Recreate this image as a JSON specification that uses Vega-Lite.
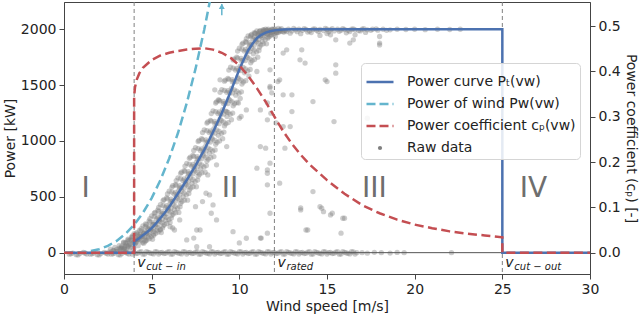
{
  "$schema": "https://vega.github.io/schema/vega-lite/v6.json",
  "width": 526,
  "height": 272,
  "autosize": {"type": "none"},
  "padding": {"left": 64, "top": 2, "right": 50, "bottom": 41},
  "config": {
    "font": "DejaVu Sans",
    "view": {"stroke": "#444", "strokeWidth": 1},
    "axis": {"labelFontSize": 14, "titleFontSize": 14, "titleFontWeight": "normal", "labelColor": "#222", "titleColor": "#222", "domainColor": "#444", "tickColor": "#444", "grid": false, "tickSize": 5, "labelPadding": 3, "titlePadding": 3, "labelFlush": false, "labelOverlap": false}
  },
  "datasets": {
    "raw": [
      {"v":0.3,"p":-14},{"v":0.5,"p":-4},{"v":0.7,"p":-18},{"v":0.9,"p":-8},{"v":1.1,"p":2},{"v":1.3,"p":-12},{"v":1.5,"p":-14},{"v":1.7,"p":-4},{"v":1.9,"p":-18},{"v":2.1,"p":-8},{"v":2.3,"p":2},{"v":2.5,"p":-12},{"v":2.7,"p":-14},{"v":2.9,"p":-4},{"v":3.1,"p":-18},{"v":3.3,"p":-8},{"v":3.5,"p":2},{"v":3.7,"p":-12},{"v":3.9,"p":-14},
      {"v":0.4,"p":-10},{"v":0.8,"p":-20},{"v":1.2,"p":-6},{"v":1.6,"p":-10},{"v":2.0,"p":-20},{"v":2.4,"p":-6},{"v":2.8,"p":-10},{"v":3.2,"p":-20},{"v":3.6,"p":-6},
      {"v":4.1,"p":-8},{"v":4.3,"p":5},{"v":4.5,"p":-14},{"v":4.7,"p":10},{"v":4.9,"p":-3},{"v":5.1,"p":-11},{"v":5.3,"p":7},{"v":5.5,"p":0},
      {"v":5.7,"p":-8},{"v":5.9,"p":5},{"v":6.1,"p":-14},{"v":6.3,"p":10},{"v":6.5,"p":-3},{"v":6.7,"p":-11},{"v":6.9,"p":7},{"v":7.1,"p":0},
      {"v":7.3,"p":-8},{"v":7.5,"p":5},{"v":7.7,"p":-14},{"v":7.9,"p":10},{"v":8.1,"p":-3},{"v":8.3,"p":-11},{"v":8.5,"p":7},{"v":8.7,"p":0},
      {"v":8.9,"p":-8},{"v":9.1,"p":5},{"v":9.3,"p":-14},{"v":9.5,"p":10},{"v":9.7,"p":-3},{"v":9.9,"p":-11},{"v":10.1,"p":7},{"v":10.3,"p":0},
      {"v":10.5,"p":-8},{"v":10.7,"p":5},{"v":10.9,"p":-14},{"v":11.1,"p":10},{"v":11.3,"p":-3},{"v":11.5,"p":-11},{"v":11.7,"p":7},{"v":11.9,"p":0},
      {"v":12.1,"p":-8},{"v":12.3,"p":5},{"v":12.5,"p":-14},{"v":12.7,"p":10},{"v":12.9,"p":-3},{"v":13.1,"p":-11},{"v":13.3,"p":7},{"v":13.5,"p":0},
      {"v":13.7,"p":-8},{"v":13.9,"p":5},{"v":14.1,"p":-14},{"v":14.3,"p":10},{"v":14.5,"p":-3},{"v":14.7,"p":-11},{"v":14.9,"p":7},{"v":15.1,"p":0},
      {"v":15.3,"p":-8},{"v":15.5,"p":5},{"v":15.7,"p":-14},{"v":15.9,"p":10},{"v":16.1,"p":-3},{"v":16.3,"p":-11},{"v":16.5,"p":7},{"v":16.7,"p":0},
      {"v":4.0,"p":3},{"v":4.2,"p":-6},{"v":4.4,"p":8},{"v":4.6,"p":-12},{"v":4.8,"p":3},{"v":5.0,"p":-6},{"v":5.2,"p":8},{"v":5.4,"p":-12},{"v":5.6,"p":3},{"v":5.8,"p":-6},{"v":6.0,"p":8},{"v":6.2,"p":-12},{"v":6.4,"p":3},{"v":6.6,"p":-6},{"v":6.8,"p":8},{"v":7.0,"p":-12},
      {"v":7.2,"p":3},{"v":7.4,"p":-6},{"v":7.6,"p":8},{"v":7.8,"p":-12},{"v":8.0,"p":3},{"v":8.2,"p":-6},{"v":8.4,"p":8},{"v":8.6,"p":-12},{"v":8.8,"p":3},{"v":9.0,"p":-6},{"v":9.2,"p":8},{"v":9.4,"p":-12},{"v":9.6,"p":3},{"v":9.8,"p":-6},{"v":10.0,"p":8},{"v":10.2,"p":-12},
      {"v":10.4,"p":3},{"v":10.6,"p":-6},{"v":10.8,"p":8},{"v":11.0,"p":-12},{"v":11.2,"p":3},{"v":11.4,"p":-6},{"v":11.6,"p":8},{"v":11.8,"p":-12},{"v":12.0,"p":3},{"v":12.2,"p":-6},{"v":12.4,"p":8},{"v":12.6,"p":-12},{"v":12.8,"p":3},{"v":13.0,"p":-6},{"v":13.2,"p":8},{"v":13.4,"p":-12},
      {"v":13.6,"p":3},{"v":13.8,"p":-6},{"v":14.0,"p":8},{"v":14.2,"p":-12},{"v":14.4,"p":3},{"v":14.6,"p":-6},{"v":14.8,"p":8},{"v":15.0,"p":-12},{"v":15.2,"p":3},{"v":15.4,"p":-6},{"v":15.6,"p":8},{"v":15.8,"p":-12},{"v":16.0,"p":3},{"v":16.2,"p":-6},{"v":16.4,"p":8},{"v":16.6,"p":-12},
      {"v":17.0,"p":0},{"v":17.3,"p":-5},{"v":17.7,"p":3},{"v":18.1,"p":0},{"v":18.6,"p":-4},{"v":19.0,"p":2},{"v":19.4,"p":0},{"v":22.1,"p":0},
      {"v":2.55,"p":5},{"v":2.8,"p":20},{"v":3.05,"p":12},{"v":3.3,"p":35},{"v":3.55,"p":28},
      {"v":2.85,"p":18},{"v":3.15,"p":40},{"v":3.4,"p":30},{"v":3.65,"p":55},{"v":2.7,"p":8},
      {"v":3.0,"p":30},{"v":3.28,"p":45},{"v":3.55,"p":65},{"v":3.8,"p":50},{"v":4.05,"p":80},
      {"v":3.3,"p":60},{"v":3.55,"p":85},{"v":3.8,"p":70},{"v":4.1,"p":95},{"v":3.45,"p":40},
      {"v":3.5,"p":90},{"v":3.78,"p":115},{"v":4.05,"p":100},{"v":4.3,"p":130},{"v":4.55,"p":85},
      {"v":3.85,"p":140},{"v":4.1,"p":120},{"v":4.4,"p":150},{"v":4.65,"p":110},{"v":3.7,"p":105},
      {"v":4.0,"p":170},{"v":4.28,"p":150},{"v":4.55,"p":175},{"v":4.8,"p":140},{"v":5.05,"p":120},
      {"v":4.3,"p":200},{"v":4.55,"p":175},{"v":4.85,"p":210},{"v":5.1,"p":165},{"v":4.2,"p":160},
      {"v":4.5,"p":240},{"v":4.78,"p":215},{"v":5.05,"p":250},{"v":5.3,"p":200},{"v":5.55,"p":180},
      {"v":4.85,"p":285},{"v":5.1,"p":255},{"v":5.4,"p":290},{"v":5.65,"p":240},{"v":4.7,"p":250},
      {"v":5.0,"p":330},{"v":5.28,"p":305},{"v":5.55,"p":335},{"v":5.8,"p":290},{"v":6.05,"p":270},
      {"v":5.35,"p":380},{"v":5.6,"p":350},{"v":5.9,"p":385},{"v":6.15,"p":335},{"v":5.2,"p":360},
      {"v":5.5,"p":430},{"v":5.78,"p":405},{"v":6.05,"p":440},{"v":6.3,"p":385},{"v":6.55,"p":360},
      {"v":5.85,"p":490},{"v":6.1,"p":460},{"v":6.4,"p":500},{"v":6.65,"p":440},{"v":5.7,"p":475},
      {"v":6.0,"p":550},{"v":6.28,"p":525},{"v":6.55,"p":560},{"v":6.8,"p":500},{"v":7.05,"p":470},
      {"v":6.35,"p":610},{"v":6.6,"p":580},{"v":6.9,"p":620},{"v":7.15,"p":560},{"v":6.2,"p":600},
      {"v":6.5,"p":670},{"v":6.78,"p":645},{"v":7.05,"p":680},{"v":7.3,"p":620},{"v":7.55,"p":590},
      {"v":6.85,"p":735},{"v":7.1,"p":705},{"v":7.4,"p":745},{"v":7.65,"p":685},{"v":6.7,"p":720},
      {"v":7.0,"p":800},{"v":7.28,"p":775},{"v":7.55,"p":810},{"v":7.8,"p":750},{"v":8.05,"p":720},
      {"v":7.35,"p":870},{"v":7.6,"p":840},{"v":7.9,"p":880},{"v":8.15,"p":820},{"v":7.2,"p":855},
      {"v":7.5,"p":940},{"v":7.78,"p":915},{"v":8.05,"p":950},{"v":8.3,"p":890},{"v":8.55,"p":860},
      {"v":7.85,"p":1020},{"v":8.1,"p":990},{"v":8.4,"p":1030},{"v":8.65,"p":970},{"v":7.7,"p":1005},
      {"v":8.0,"p":1100},{"v":8.28,"p":1075},{"v":8.55,"p":1110},{"v":8.8,"p":1050},{"v":9.05,"p":1020},
      {"v":8.35,"p":1185},{"v":8.6,"p":1155},{"v":8.9,"p":1195},{"v":9.15,"p":1135},{"v":8.2,"p":1170},
      {"v":8.5,"p":1270},{"v":8.78,"p":1245},{"v":9.05,"p":1280},{"v":9.3,"p":1220},{"v":9.55,"p":1190},
      {"v":8.85,"p":1365},{"v":9.1,"p":1335},{"v":9.4,"p":1375},{"v":9.65,"p":1315},{"v":8.7,"p":1350},
      {"v":9.0,"p":1460},{"v":9.28,"p":1435},{"v":9.55,"p":1470},{"v":9.8,"p":1410},{"v":10.05,"p":1380},
      {"v":9.35,"p":1560},{"v":9.6,"p":1530},{"v":9.9,"p":1570},{"v":10.15,"p":1510},{"v":9.2,"p":1545},
      {"v":9.5,"p":1660},{"v":9.78,"p":1635},{"v":10.05,"p":1670},{"v":10.3,"p":1610},{"v":10.55,"p":1580},
      {"v":9.85,"p":1750},{"v":10.1,"p":1720},{"v":10.4,"p":1760},{"v":10.65,"p":1700},{"v":9.7,"p":1735},
      {"v":10.0,"p":1830},{"v":10.28,"p":1805},{"v":10.55,"p":1840},{"v":10.8,"p":1780},{"v":11.05,"p":1750},
      {"v":10.35,"p":1890},{"v":10.6,"p":1860},{"v":10.9,"p":1900},{"v":11.15,"p":1840},{"v":10.2,"p":1875},
      {"v":10.5,"p":1940},{"v":10.78,"p":1915},{"v":11.05,"p":1950},{"v":11.3,"p":1890},{"v":11.55,"p":1870},
      {"v":10.85,"p":1970},{"v":11.1,"p":1945},{"v":11.4,"p":1975},{"v":11.65,"p":1930},{"v":10.7,"p":1955},
      {"v":11.0,"p":1985},{"v":11.28,"p":1965},{"v":11.55,"p":1990},{"v":11.8,"p":1950},{"v":12.05,"p":1935},
      {"v":11.35,"p":1995},{"v":11.6,"p":1980},{"v":11.9,"p":1998},{"v":12.15,"p":1970},{"v":11.2,"p":1988},
      {"v":11.5,"p":2000},{"v":11.78,"p":1990},{"v":12.05,"p":2000},{"v":12.3,"p":1985},{"v":12.55,"p":1975},
      {"v":2.65,"p":32},{"v":2.95,"p":12},{"v":3.22,"p":38},{"v":3.48,"p":8},
      {"v":2.9,"p":47},{"v":3.2,"p":27},{"v":3.47,"p":53},{"v":3.73,"p":23},
      {"v":3.15,"p":62},{"v":3.45,"p":42},{"v":3.72,"p":68},{"v":3.98,"p":38},
      {"v":3.4,"p":87},{"v":3.7,"p":67},{"v":3.97,"p":93},{"v":4.23,"p":63},
      {"v":3.65,"p":112},{"v":3.95,"p":92},{"v":4.22,"p":118},{"v":4.48,"p":88},
      {"v":3.9,"p":137},{"v":4.2,"p":117},{"v":4.47,"p":143},{"v":4.73,"p":113},
      {"v":4.15,"p":167},{"v":4.45,"p":147},{"v":4.72,"p":173},{"v":4.98,"p":143},
      {"v":4.4,"p":197},{"v":4.7,"p":177},{"v":4.97,"p":203},{"v":5.23,"p":173},
      {"v":4.65,"p":232},{"v":4.95,"p":212},{"v":5.22,"p":238},{"v":5.48,"p":208},
      {"v":4.9,"p":274},{"v":5.2,"p":254},{"v":5.47,"p":280},{"v":5.73,"p":250},
      {"v":5.15,"p":322},{"v":5.45,"p":302},{"v":5.72,"p":328},{"v":5.98,"p":298},
      {"v":5.4,"p":370},{"v":5.7,"p":350},{"v":5.97,"p":376},{"v":6.23,"p":346},
      {"v":5.65,"p":422},{"v":5.95,"p":402},{"v":6.22,"p":428},{"v":6.48,"p":398},
      {"v":5.9,"p":482},{"v":6.2,"p":462},{"v":6.47,"p":488},{"v":6.73,"p":458},
      {"v":6.15,"p":542},{"v":6.45,"p":522},{"v":6.72,"p":548},{"v":6.98,"p":518},
      {"v":6.4,"p":602},{"v":6.7,"p":582},{"v":6.97,"p":608},{"v":7.23,"p":578},
      {"v":6.65,"p":662},{"v":6.95,"p":642},{"v":7.22,"p":668},{"v":7.48,"p":638},
      {"v":6.9,"p":727},{"v":7.2,"p":707},{"v":7.47,"p":733},{"v":7.73,"p":703},
      {"v":7.15,"p":792},{"v":7.45,"p":772},{"v":7.72,"p":798},{"v":7.98,"p":768},
      {"v":7.4,"p":862},{"v":7.7,"p":842},{"v":7.97,"p":868},{"v":8.23,"p":838},
      {"v":7.65,"p":932},{"v":7.95,"p":912},{"v":8.22,"p":938},{"v":8.48,"p":908},
      {"v":7.9,"p":1012},{"v":8.2,"p":992},{"v":8.47,"p":1018},{"v":8.73,"p":988},
      {"v":8.15,"p":1092},{"v":8.45,"p":1072},{"v":8.72,"p":1098},{"v":8.98,"p":1068},
      {"v":8.4,"p":1177},{"v":8.7,"p":1157},{"v":8.97,"p":1183},{"v":9.23,"p":1153},
      {"v":8.65,"p":1262},{"v":8.95,"p":1242},{"v":9.22,"p":1268},{"v":9.48,"p":1238},
      {"v":8.9,"p":1357},{"v":9.2,"p":1337},{"v":9.47,"p":1363},{"v":9.73,"p":1333},
      {"v":9.15,"p":1452},{"v":9.45,"p":1432},{"v":9.72,"p":1458},{"v":9.98,"p":1428},
      {"v":9.4,"p":1552},{"v":9.7,"p":1532},{"v":9.97,"p":1558},{"v":10.23,"p":1528},
      {"v":9.65,"p":1652},{"v":9.95,"p":1632},{"v":10.22,"p":1658},{"v":10.48,"p":1628},
      {"v":9.9,"p":1742},{"v":10.2,"p":1722},{"v":10.47,"p":1748},{"v":10.73,"p":1718},
      {"v":10.15,"p":1822},{"v":10.45,"p":1802},{"v":10.72,"p":1828},{"v":10.98,"p":1798},
      {"v":10.4,"p":1882},{"v":10.7,"p":1862},{"v":10.97,"p":1888},{"v":11.23,"p":1858},
      {"v":10.65,"p":1932},{"v":10.95,"p":1912},{"v":11.22,"p":1938},{"v":11.48,"p":1908},
      {"v":10.9,"p":1962},{"v":11.2,"p":1942},{"v":11.47,"p":1968},{"v":11.73,"p":1938},
      {"v":11.15,"p":1982},{"v":11.45,"p":1962},{"v":11.72,"p":1988},{"v":11.98,"p":1958},
      {"v":11.4,"p":1994},{"v":11.7,"p":1974},{"v":11.97,"p":2000},{"v":12.23,"p":1970},
      {"v":11.65,"p":2002},{"v":11.95,"p":1982},{"v":12.22,"p":2008},{"v":12.48,"p":1978},
      {"v":3.4,"p":95},{"v":3.85,"p":110},{"v":4.1,"p":90},{"v":4.35,"p":105},{"v":4.62,"p":100},
      {"v":3.65,"p":120},{"v":4.1,"p":135},{"v":4.35,"p":115},{"v":4.6,"p":130},{"v":4.87,"p":125},
      {"v":3.9,"p":150},{"v":4.35,"p":165},{"v":4.6,"p":145},{"v":4.85,"p":160},{"v":5.12,"p":155},
      {"v":4.15,"p":180},{"v":4.6,"p":195},{"v":4.85,"p":175},{"v":5.1,"p":190},{"v":5.37,"p":185},
      {"v":4.4,"p":215},{"v":4.85,"p":230},{"v":5.1,"p":210},{"v":5.35,"p":225},{"v":5.62,"p":220},
      {"v":4.65,"p":257},{"v":5.1,"p":272},{"v":5.35,"p":252},{"v":5.6,"p":267},{"v":5.87,"p":262},
      {"v":4.9,"p":305},{"v":5.35,"p":320},{"v":5.6,"p":300},{"v":5.85,"p":315},{"v":6.12,"p":310},
      {"v":5.15,"p":353},{"v":5.6,"p":368},{"v":5.85,"p":348},{"v":6.1,"p":363},{"v":6.37,"p":358},
      {"v":5.4,"p":405},{"v":5.85,"p":420},{"v":6.1,"p":400},{"v":6.35,"p":415},{"v":6.62,"p":410},
      {"v":5.65,"p":465},{"v":6.1,"p":480},{"v":6.35,"p":460},{"v":6.6,"p":475},{"v":6.87,"p":470},
      {"v":5.9,"p":525},{"v":6.35,"p":540},{"v":6.6,"p":520},{"v":6.85,"p":535},{"v":7.12,"p":530},
      {"v":6.15,"p":585},{"v":6.6,"p":600},{"v":6.85,"p":580},{"v":7.1,"p":595},{"v":7.37,"p":590},
      {"v":6.4,"p":645},{"v":6.85,"p":660},{"v":7.1,"p":640},{"v":7.35,"p":655},{"v":7.62,"p":650},
      {"v":6.65,"p":710},{"v":7.1,"p":725},{"v":7.35,"p":705},{"v":7.6,"p":720},{"v":7.87,"p":715},
      {"v":6.9,"p":775},{"v":7.35,"p":790},{"v":7.6,"p":770},{"v":7.85,"p":785},{"v":8.12,"p":780},
      {"v":7.15,"p":845},{"v":7.6,"p":860},{"v":7.85,"p":840},{"v":8.1,"p":855},{"v":8.37,"p":850},
      {"v":7.4,"p":915},{"v":7.85,"p":930},{"v":8.1,"p":910},{"v":8.35,"p":925},{"v":8.62,"p":920},
      {"v":7.65,"p":995},{"v":8.1,"p":1010},{"v":8.35,"p":990},{"v":8.6,"p":1005},{"v":8.87,"p":1000},
      {"v":7.9,"p":1075},{"v":8.35,"p":1090},{"v":8.6,"p":1070},{"v":8.85,"p":1085},{"v":9.12,"p":1080},
      {"v":8.15,"p":1160},{"v":8.6,"p":1175},{"v":8.85,"p":1155},{"v":9.1,"p":1170},{"v":9.37,"p":1165},
      {"v":8.4,"p":1245},{"v":8.85,"p":1260},{"v":9.1,"p":1240},{"v":9.35,"p":1255},{"v":9.62,"p":1250},
      {"v":8.65,"p":1340},{"v":9.1,"p":1355},{"v":9.35,"p":1335},{"v":9.6,"p":1350},{"v":9.87,"p":1345},
      {"v":8.9,"p":1435},{"v":9.35,"p":1450},{"v":9.6,"p":1430},{"v":9.85,"p":1445},{"v":10.12,"p":1440},
      {"v":9.15,"p":1535},{"v":9.6,"p":1550},{"v":9.85,"p":1530},{"v":10.1,"p":1545},{"v":10.37,"p":1540},
      {"v":9.4,"p":1635},{"v":9.85,"p":1650},{"v":10.1,"p":1630},{"v":10.35,"p":1645},{"v":10.62,"p":1640},
      {"v":9.65,"p":1725},{"v":10.1,"p":1740},{"v":10.35,"p":1720},{"v":10.6,"p":1735},{"v":10.87,"p":1730},
      {"v":9.9,"p":1805},{"v":10.35,"p":1820},{"v":10.6,"p":1800},{"v":10.85,"p":1815},{"v":11.12,"p":1810},
      {"v":10.15,"p":1865},{"v":10.6,"p":1880},{"v":10.85,"p":1860},{"v":11.1,"p":1875},{"v":11.37,"p":1870},
      {"v":10.4,"p":1915},{"v":10.85,"p":1930},{"v":11.1,"p":1910},{"v":11.35,"p":1925},{"v":11.62,"p":1920},
      {"v":10.65,"p":1945},{"v":11.1,"p":1960},{"v":11.35,"p":1940},{"v":11.6,"p":1955},{"v":11.87,"p":1950},
      {"v":10.9,"p":1965},{"v":11.35,"p":1980},{"v":11.6,"p":1960},{"v":11.85,"p":1975},{"v":12.12,"p":1970},
      {"v":11.15,"p":1977},{"v":11.6,"p":1992},{"v":11.85,"p":1972},{"v":12.1,"p":1987},{"v":12.37,"p":1982},
      {"v":11.4,"p":1985},{"v":11.85,"p":2000},{"v":12.1,"p":1980},{"v":12.35,"p":1995},{"v":12.62,"p":1990},
      {"v":12.3,"p":1995},{"v":12.6,"p":1990},{"v":12.8,"p":2000},{"v":13.0,"p":1985},{"v":13.2,"p":1995},{"v":13.4,"p":2000},{"v":13.6,"p":1990},{"v":13.8,"p":1998},{"v":14.0,"p":1985},{"v":14.2,"p":2000},{"v":14.4,"p":1992},{"v":14.6,"p":1998},{"v":14.8,"p":1988},{"v":15.0,"p":2000},{"v":15.2,"p":1995},{"v":15.4,"p":1985},{"v":15.6,"p":2000},{"v":15.8,"p":1992},{"v":16.0,"p":1998},{"v":16.2,"p":1990},{"v":16.4,"p":2000},{"v":16.6,"p":1995},{"v":16.8,"p":1988},{"v":17.0,"p":2000},{"v":17.3,"p":1995},{"v":17.6,"p":2000},{"v":17.9,"p":1992},{"v":18.2,"p":2000},{"v":18.6,"p":1995},{"v":19.0,"p":2000},{"v":19.5,"p":1998},{"v":20.0,"p":2000},{"v":20.6,"p":1996},{"v":21.3,"p":2000},{"v":22.0,"p":1998},{"v":22.6,"p":2000},
      {"v":12.4,"p":2005},{"v":12.7,"p":1980},{"v":13.1,"p":2008},{"v":13.3,"p":1978},{"v":13.7,"p":2006},{"v":13.9,"p":1975},{"v":14.3,"p":2004},{"v":14.5,"p":1980},{"v":14.9,"p":2008},{"v":15.1,"p":1978},{"v":15.3,"p":2005},{"v":15.7,"p":1982},{"v":15.9,"p":2006},{"v":16.3,"p":1980},{"v":16.5,"p":2004},{"v":16.9,"p":1985},{"v":17.1,"p":2005},{"v":17.5,"p":1990},{"v":17.8,"p":2004},{"v":18.4,"p":1990},
      {"v":12.9,"p":1965},{"v":13.5,"p":1960},{"v":14.1,"p":1970},{"v":15.0,"p":1962},{"v":16.1,"p":1968},{"v":17.2,"p":1972},{"v":14.6,"p":1945},{"v":16.6,"p":1950},
      {"v":12.7,"p":1816},{"v":13.56,"p":1816},{"v":13.46,"p":1726},{"v":13.75,"p":1697},{"v":12.3,"p":1547},{"v":12.5,"p":1413},{"v":13.0,"p":1413},{"v":14.2,"p":1353},{"v":11.75,"p":1488},{"v":11.85,"p":1431},{"v":11.6,"p":1341},{"v":11.2,"p":1278},{"v":10.4,"p":1278},{"v":10.1,"p":1219},{"v":9.95,"p":1339},{"v":11.8,"p":1249},{"v":11.6,"p":1189},{"v":12.1,"p":1161},{"v":9.28,"p":950},{"v":11.2,"p":950},{"v":12.5,"p":1129},{"v":12.9,"p":1129},{"v":10.0,"p":1204},{"v":9.28,"p":1263},
      {"v":15.5,"p":1682},{"v":15.5,"p":1607},{"v":15.0,"p":1532},{"v":12.2,"p":1532},{"v":16.3,"p":1876},{"v":16.5,"p":1905},{"v":18.0,"p":1876},{"v":18.0,"p":1935},{"v":15.2,"p":1950},{"v":15.5,"p":1905},{"v":12.5,"p":1787},{"v":11.75,"p":1637},{"v":11.0,"p":1622},{"v":11.75,"p":1476},{"v":14.9,"p":1547},{"v":15.4,"p":1174},{"v":17.3,"p":1204},{"v":18.0,"p":1860},
      {"v":8.7,"p":786},{"v":8.2,"p":696},{"v":7.5,"p":412},{"v":7.9,"p":457},{"v":6.2,"p":221},{"v":6.6,"p":293},{"v":7.76,"p":203},{"v":8.3,"p":54},{"v":7.57,"p":54},{"v":7.0,"p":114},{"v":8.3,"p":517},{"v":9.64,"p":188},{"v":10.4,"p":129},{"v":11.6,"p":174},{"v":11.0,"p":756},{"v":11.6,"p":711},{"v":11.75,"p":801},{"v":13.5,"p":383},{"v":13.8,"p":203},{"v":14.2,"p":547},{"v":14.6,"p":412},{"v":15.3,"p":353},{"v":15.9,"p":308},{"v":15.8,"p":174},{"v":14.8,"p":367},
      {"v":13.0,"p":1263},{"v":11.5,"p":935},{"v":12.6,"p":935},{"v":11.6,"p":741},{"v":12.3,"p":622},{"v":11.6,"p":607},{"v":13.5,"p":400},{"v":14.7,"p":398},{"v":15.2,"p":338},{"v":16.0,"p":308},{"v":13.9,"p":203},{"v":11.2,"p":131},
      {"v":5.5,"p":203},{"v":6.05,"p":233},{"v":6.3,"p":203},{"v":7.57,"p":203},{"v":7.4,"p":131},{"v":8.1,"p":532},{"v":8.5,"p":427},{"v":8.4,"p":353},{"v":8.7,"p":293},{"v":10.0,"p":87},{"v":11.75,"p":353},{"v":11.25,"p":131},{"v":8.6,"p":1458},{"v":8.8,"p":1368},{"v":8.9,"p":1547}
    ],
    "curve": [
      {"i":0,"v":0,"p":0},{"i":1,"v":4,"p":0},{"i":2,"v":4,"p":100},{"i":3,"v":4.25,"p":125},{"i":4,"v":4.5,"p":155},{"i":5,"v":4.75,"p":185},{"i":6,"v":5,"p":220},{"i":7,"v":5.25,"p":262},{"i":8,"v":5.5,"p":310},{"i":9,"v":5.75,"p":358},{"i":10,"v":6,"p":410},{"i":11,"v":6.25,"p":470},{"i":12,"v":6.5,"p":530},{"i":13,"v":6.75,"p":590},{"i":14,"v":7,"p":650},{"i":15,"v":7.25,"p":715},{"i":16,"v":7.5,"p":780},{"i":17,"v":7.75,"p":850},{"i":18,"v":8,"p":920},{"i":19,"v":8.25,"p":1000},{"i":20,"v":8.5,"p":1080},{"i":21,"v":8.75,"p":1165},{"i":22,"v":9,"p":1250},{"i":23,"v":9.25,"p":1345},{"i":24,"v":9.5,"p":1440},{"i":25,"v":9.75,"p":1540},{"i":26,"v":10,"p":1640},{"i":27,"v":10.25,"p":1730},{"i":28,"v":10.5,"p":1810},{"i":29,"v":10.75,"p":1870},{"i":30,"v":11,"p":1920},{"i":31,"v":11.25,"p":1950},{"i":32,"v":11.5,"p":1970},{"i":33,"v":11.75,"p":1982},{"i":34,"v":12,"p":1990},{"i":35,"v":12.5,"p":1997},{"i":36,"v":13,"p":2000},{"i":37,"v":25,"p":2000},{"i":38,"v":25,"p":0},{"i":39,"v":30,"p":0}
    ],
    "wind": [
      {"v":0,"p":0},{"v":0.5,"p":0.5},{"v":1,"p":4},{"v":1.5,"p":13},{"v":2,"p":31},{"v":2.5,"p":61},{"v":3,"p":105},{"v":3.5,"p":167},{"v":4,"p":250},{"v":4.5,"p":356},{"v":5,"p":488},{"v":5.5,"p":650},{"v":6,"p":843},{"v":6.5,"p":1071},{"v":7,"p":1338},{"v":7.5,"p":1645},{"v":8,"p":1997},{"v":8.5,"p":2396}
    ],
    "cp": [
      {"i":0,"v":0,"cp":0},{"i":1,"v":4,"cp":0},{"i":2,"v":4,"cp":0.345},{"i":3,"v":4.05,"cp":0.365},{"i":4,"v":4.15,"cp":0.382},{"i":5,"v":4.3,"cp":0.396},{"i":6,"v":4.5,"cp":0.408},{"i":7,"v":5,"cp":0.425},{"i":8,"v":5.5,"cp":0.435},{"i":9,"v":6,"cp":0.441},{"i":10,"v":6.5,"cp":0.445},{"i":11,"v":7,"cp":0.448},{"i":12,"v":7.5,"cp":0.45},{"i":13,"v":8,"cp":0.451},{"i":14,"v":8.5,"cp":0.448},{"i":15,"v":9,"cp":0.441},{"i":16,"v":9.5,"cp":0.43},{"i":17,"v":10,"cp":0.413},{"i":18,"v":10.5,"cp":0.39},{"i":19,"v":11,"cp":0.363},{"i":20,"v":11.5,"cp":0.333},{"i":21,"v":12,"cp":0.3},{"i":22,"v":12.5,"cp":0.268},{"i":23,"v":13,"cp":0.24},{"i":24,"v":13.5,"cp":0.216},{"i":25,"v":14,"cp":0.195},{"i":26,"v":15,"cp":0.16},{"i":27,"v":16,"cp":0.13},{"i":28,"v":17,"cp":0.105},{"i":29,"v":18,"cp":0.087},{"i":30,"v":19,"cp":0.073},{"i":31,"v":20,"cp":0.062},{"i":32,"v":21,"cp":0.054},{"i":33,"v":22,"cp":0.047},{"i":34,"v":23,"cp":0.042},{"i":35,"v":24,"cp":0.038},{"i":36,"v":25,"cp":0.034},{"i":37,"v":25,"cp":0},{"i":38,"v":30,"cp":0}
    ],
    "vlines": [{"v":4},{"v":12},{"v":25}],
    "regions": [{"v":1,"p":500,"t":"I"},{"v":9,"p":500,"t":"II"},{"v":17,"p":500,"t":"III"},{"v":26,"p":500,"t":"IV"}],
    "vlab": [{"v":4,"p":-130,"sub":"cut − in"},{"v":12,"p":-130,"sub":"rated"},{"v":25,"p":-130,"sub":"cut − out"}],
    "arrow": [{"v":9,"p":2125,"p2":2225}],
    "arrowhead": [{"v":9,"p":2205}]
  },
  "layer": [
    {
      "layer": [
        {
          "data": {"name": "raw"},
          "mark": {"type": "circle", "size": 28, "opacity": 0.4},
          "encoding": {
            "x": {"field": "v", "type": "quantitative", "scale": {"domain": [0, 30], "nice": false}, "title": "Wind speed [m/s]", "axis": {"values": [0, 5, 10, 15, 20, 25, 30]}},
            "y": {"field": "p", "type": "quantitative", "scale": {"domain": [-191, 2244], "nice": false, "zero": false}, "title": "Power [kW]", "axis": {"values": [0, 500, 1000, 1500, 2000], "format": "d"}},
            "color": {
              "datum": "Raw data",
              "type": "nominal",
              "scale": {"domain": ["Power curve Pₜ(vw)", "Power of wind Pw(vw)", "Power coefficient cₚ(vw)", "Raw data"], "range": ["#4C72B0", "#64B5CD", "#C44E52", "#7f7f7f"]},
              "legend": {
                "orient": "none", "legendX": 297, "legendY": 61, "title": null,
                "symbolType": "stroke", "symbolSize": 729, "symbolStrokeWidth": 2.5, "symbolOpacity": 1,
                "labelFontSize": 14, "labelColor": "#222", "labelOffset": 12, "labelLimit": 400, "rowPadding": 0, "padding": 4,
                "fillColor": "rgba(255,255,255,0.85)", "strokeColor": "#d5d5d5", "cornerRadius": 4,
                "encode": {"symbols": {"update": {
                  "shape": {"signal": "datum.value === 'Raw data' ? 'circle' : 'stroke'"},
                  "size": {"signal": "datum.value === 'Raw data' ? 18 : 729"},
                  "fill": {"signal": "datum.value === 'Raw data' ? '#cfcfcf' : 'transparent'"},
                  "stroke": {"signal": "datum.value === 'Raw data' ? '#cfcfcf' : (datum.index === 0 ? '#4C72B0' : (datum.index === 1 ? '#64B5CD' : '#C44E52'))"},
                  "strokeOpacity": {"signal": "datum.value === 'Raw data' ? 0 : 1"},
                  "strokeDash": {"signal": "datum.index === 0 ? [1, 0] : [9, 4]"},
                  "strokeWidth": {"value": 2.5},
                  "opacity": {"value": 1}
                }}}
              }
            }
          }
        },
        {
          "data": {"name": "vlines"},
          "mark": {"type": "rule", "color": "#808080", "strokeWidth": 1, "strokeDash": [4, 3]},
          "encoding": {
            "x": {"field": "v", "type": "quantitative", "scale": {"domain": [0, 30], "nice": false}, "title": "Wind speed [m/s]"}
          }
        },
        {
          "data": {"values": [{}]},
          "mark": {"type": "rule", "color": "#555", "strokeWidth": 1},
          "encoding": {
            "y": {"datum": 0, "type": "quantitative"}
          }
        },
        {
          "data": {"name": "curve"},
          "mark": {"type": "line", "strokeWidth": 2.5},
          "encoding": {
            "x": {"field": "v", "type": "quantitative", "scale": {"domain": [0, 30], "nice": false}, "title": "Wind speed [m/s]"},
            "y": {"field": "p", "type": "quantitative", "title": "Power [kW]"},
            "order": {"field": "i", "type": "quantitative"},
            "color": {"datum": "Power curve Pₜ(vw)", "type": "nominal", "legend": null}
          }
        },
        {
          "data": {"name": "wind"},
          "mark": {"type": "line", "strokeWidth": 2.5, "strokeDash": [9, 4.5], "clip": true},
          "encoding": {
            "x": {"field": "v", "type": "quantitative", "scale": {"domain": [0, 30], "nice": false}, "title": "Wind speed [m/s]"},
            "y": {"field": "p", "type": "quantitative", "title": "Power [kW]"},
            "color": {"datum": "Power of wind Pw(vw)", "type": "nominal", "legend": null}
          }
        },
        {
          "data": {"name": "arrow"},
          "mark": {"type": "rule", "color": "#64B5CD", "strokeWidth": 1.5},
          "encoding": {
            "x": {"field": "v", "type": "quantitative", "scale": {"domain": [0, 30], "nice": false}, "title": "Wind speed [m/s]"},
            "y": {"field": "p", "type": "quantitative", "title": "Power [kW]"},
            "y2": {"field": "p2"}
          }
        },
        {
          "data": {"name": "arrowhead"},
          "mark": {"type": "point", "shape": "triangle-up", "filled": true, "size": 35, "color": "#64B5CD", "opacity": 1},
          "encoding": {
            "x": {"field": "v", "type": "quantitative", "scale": {"domain": [0, 30], "nice": false}, "title": "Wind speed [m/s]"},
            "y": {"field": "p", "type": "quantitative", "title": "Power [kW]"}
          }
        },
        {
          "data": {"name": "regions"},
          "mark": {"type": "text", "fontSize": 28, "align": "left", "baseline": "alphabetic", "color": "#6e6e6e"},
          "encoding": {
            "x": {"field": "v", "type": "quantitative", "scale": {"domain": [0, 30], "nice": false}, "title": "Wind speed [m/s]"},
            "y": {"field": "p", "type": "quantitative", "title": "Power [kW]"},
            "text": {"field": "t"}
          }
        },
        {
          "data": {"name": "vlab"},
          "mark": {"type": "text", "text": "v", "fontSize": 14, "fontStyle": "italic", "align": "left", "baseline": "alphabetic", "dx": 3, "color": "#222"},
          "encoding": {
            "x": {"field": "v", "type": "quantitative", "scale": {"domain": [0, 30], "nice": false}, "title": "Wind speed [m/s]"},
            "y": {"field": "p", "type": "quantitative", "title": "Power [kW]"}
          }
        },
        {
          "data": {"name": "vlab"},
          "mark": {"type": "text", "fontSize": 10, "fontStyle": "italic", "align": "left", "baseline": "alphabetic", "dx": 12, "dy": 3, "color": "#222"},
          "encoding": {
            "x": {"field": "v", "type": "quantitative", "scale": {"domain": [0, 30], "nice": false}, "title": "Wind speed [m/s]"},
            "y": {"field": "p", "type": "quantitative", "title": "Power [kW]"},
            "text": {"field": "sub"}
          }
        }
      ]
    },
    {
      "data": {"name": "cp"},
      "mark": {"type": "line", "strokeWidth": 2.5, "strokeDash": [9, 4.5]},
      "encoding": {
        "x": {"field": "v", "type": "quantitative", "scale": {"domain": [0, 30], "nice": false}, "title": "Wind speed [m/s]"},
        "y": {"field": "cp", "type": "quantitative", "scale": {"domain": [-0.047, 0.553], "nice": false, "zero": false}, "title": "Power coefficient (cₚ) [-]", "axis": {"orient": "right", "values": [0, 0.1, 0.2, 0.3, 0.4, 0.5], "format": ".1f"}},
        "order": {"field": "i", "type": "quantitative"},
        "color": {"datum": "Power coefficient cₚ(vw)", "type": "nominal", "legend": null}
      }
    }
  ],
  "resolve": {"scale": {"y": "independent"}}
}
